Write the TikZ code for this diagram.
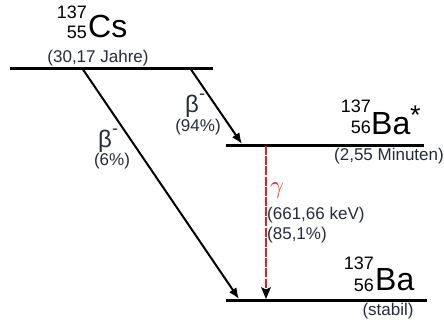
\documentclass[tikz,border=0pt]{standalone}
\usepackage{fontspec}
\setmainfont{Liberation Sans}
\usetikzlibrary{arrows.meta,calc}
\definecolor{lbl}{RGB}{38,42,58}
\definecolor{gred}{RGB}{232,28,36}
\newcommand{\betam}{β\raisebox{13pt}{\fontsize{18}{18}\selectfont -}}
\tikzset{
  lvl/.style={line width=3pt, black},
  decay/.style={line width=2pt, black, -{Latex[length=11pt,width=9pt]}},
  gam/.style={line width=2.5pt, gred, dash pattern=on 9pt off 1.2pt},
  big/.style={inner sep=0pt, font=\fontsize{32}{34}\selectfont},
  iso/.style={inner sep=0pt, font=\fontsize{18}{20}\selectfont},
  small/.style={inner sep=0pt, text=lbl, font=\fontsize{17}{20}\selectfont},
  betal/.style={inner sep=0pt, text=lbl, font=\fontsize{24}{26}\selectfont},
}
\begin{document}
\begin{tikzpicture}[x=1pt,y=-1pt]
\useasboundingbox (0,0) rectangle (444,325);
% levels
\coordinate (csl) at (10,68);  \coordinate (csr) at (213,68);
\coordinate (bxl) at (226,145); \coordinate (bxr) at (424,145);
\coordinate (bal) at (226,300); \coordinate (bar) at (427,300);
\draw[lvl] (csl) -- (csr);
\draw[lvl] (bxl) -- (bxr);
\draw[lvl] (bal) -- (bar);
% decays
\coordinate (a1s) at (82,68);  \coordinate (a1e) at (239,299);
\coordinate (a2s) at (190,68); \coordinate (a2e) at (242,144);
\coordinate (gs) at (266,146); \coordinate (ge) at (266,299);
\draw[decay] (a1s) -- (a1e);
\draw[decay] (a2s) -- (a2e);
\draw[gam] (gs) -- ($(ge)+(0,-9)$);
\fill[black] (ge) -- ++(-5,-12) -- ++(5,2.5) -- ++(5,-2.5) -- cycle;
% Cs
\node[big, anchor=base west] (cs) at (88,37) {Cs};
\node[iso, anchor=base east] (csa) at (87,18.5) {137};
\node[iso, anchor=base east] (csz) at (87,38) {55};
\node[small, anchor=base] (cst) at (98,62) {(30,17 Jahre)};
% Ba*
\node[big, anchor=base west] (bx) at (371,134) {Ba};
\node[big, anchor=base west, font=\fontsize{27}{28}\selectfont] (bxs) at (410,124) {*};
\node[iso, anchor=base east] (bxa) at (371,112) {137};
\node[iso, anchor=base east] (bxz) at (371,133) {56};
\node[small, anchor=base east] (bxt) at (444,160) {(2,55 Minuten)};
% Ba
\node[big, anchor=base west] (ba) at (375,290) {Ba};
\node[iso, anchor=base east] (baa) at (374,269) {137};
\node[iso, anchor=base east] (baz) at (374,291) {56};
\node[small, anchor=base] (bat) at (388,315) {(stabil)};
% labels
\node[betal, anchor=base west] (b2) at (185,112) {\betam};
\node[small, anchor=base] (b2p) at (198,131) {(94\%)};
\node[betal, anchor=base west] (b1) at (98,147) {\betam};
\node[small, anchor=base] (b1p) at (112,165) {(6\%)};
\node[inner sep=0pt, anchor=base west, text=gred, font=\fontsize{25}{25}\selectfont] (g) at (270,193) {$\gamma$};
\node[small, anchor=base west] (ge1) at (267,219) {(661,66 keV)};
\node[small, anchor=base west] (ge2) at (267,239) {(85,1\%)};
\end{tikzpicture}
\end{document}
